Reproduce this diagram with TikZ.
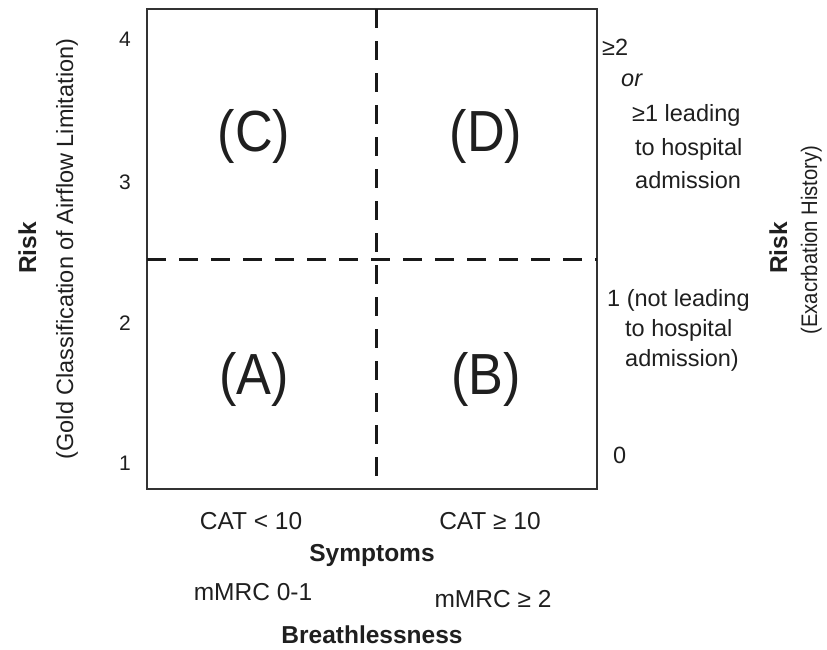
\documentclass[tikz,border=0pt]{standalone}
\usepackage{fontspec}
\setmainfont{Liberation Sans}
\newfontfamily\narrowfont[FakeStretch=0.9]{Liberation Sans}
\begin{document}
\begin{tikzpicture}[x=1pt,y=-1pt,
  every node/.style={inner sep=0pt, text=black!88, anchor=base},
  tick/.style={font=\fontsize{21}{24}\selectfont},
  side/.style={font=\fontsize{23.5}{27}\selectfont, anchor=base west},
  quad/.style={font=\narrowfont\fontsize{58}{64}\selectfont},
  bot/.style={font=\fontsize{24.5}{28}\selectfont},
  ttl/.style={font=\fontsize{24.5}{28}\selectfont\bfseries},
  sub/.style={font=\fontsize{23.5}{27}\selectfont},
  subn/.style={font=\narrowfont\fontsize{22.5}{26}\selectfont},
  divider/.style={line width=3pt, dash pattern=on 19pt off 13pt, black!90},
  frame/.style={line width=1.6pt, black!80}]
\useasboundingbox (0,0) rectangle (827,649);
% frame
\coordinate (tl) at (147,9);
\coordinate (br) at (597,489);
\draw[frame] (tl) rectangle (br);
% dividers
\coordinate (vt) at (376,9);
\coordinate (vb) at (376,489);
\coordinate (hl) at (147,259);
\coordinate (hr) at (597,259);
\draw[divider] (vt) -- (vb);
\draw[divider] (hl) -- (hr);
% quadrant labels
\node[quad] (qc) at (254,151) {(C)};
\node[quad] (qd) at (486,151) {(D)};
\node[quad] (qa) at (254,394) {(A)};
\node[quad] (qb) at (486,394) {(B)};
% left ticks
\node[tick] (t4) at (125,46) {4};
\node[tick] (t3) at (125,189) {3};
\node[tick] (t2) at (125,330) {2};
\node[tick] (t1) at (125,470) {1};
% left axis titles
\node[ttl, rotate=90] (lrisk) at (36,248) {Risk};
\node[sub, rotate=90] (lsub) at (73,249) {(Gold Classification of Airflow Limitation)};
% right side
\node[side] (r1) at (602,55) {≥2};
\node[side] (r2) at (621,86) {\itshape or};
\node[side] (r3) at (632,121) {≥1 leading};
\node[side] (r4) at (635,155) {to hospital};
\node[side] (r5) at (635,188) {admission};
\node[side] (r6) at (607,306) {1 (not leading};
\node[side] (r7) at (625,336) {to hospital};
\node[side] (r8) at (625,366) {admission)};
\node[side] (r9) at (613,463) {0};
\node[ttl, rotate=90] (rrisk) at (787,248) {Risk};
\node[subn, rotate=90] (rsub) at (817,240) {(Exacrbation History)};
% bottom
\node[bot] (cat1) at (251,529) {CAT < 10};
\node[bot] (cat2) at (490,529) {CAT ≥ 10};
\node[ttl] (symp) at (372,561) {Symptoms};
\node[bot] (mm1) at (253,600) {mMRC 0-1};
\node[bot] (mm2) at (493,607) {mMRC ≥ 2};
\node[ttl] (brea) at (372,643) {Breathlessness};
\end{tikzpicture}
\end{document}
